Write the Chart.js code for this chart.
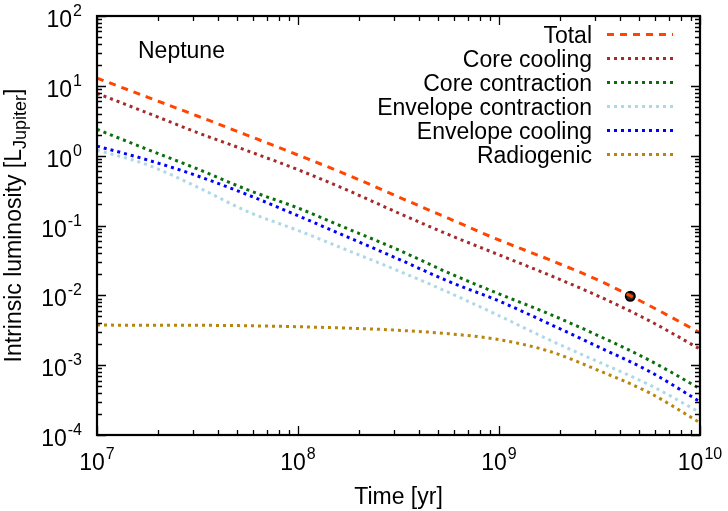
<!DOCTYPE html>
<html lang="en">
  <head>
    <meta charset="UTF-8">
    <title>Neptune luminosity</title>
    <script src="https://cdn.jsdelivr.net/npm/chart.js@4.4.0/dist/chart.umd.min.js"></script>
    <style>
      html, body { margin: 0; padding: 0; background: #fff; }
      #wrap { width: 728px; height: 511px; }
    </style>
  </head>
  <body>
    <div id="wrap"><canvas id="myChart" width="728" height="511"></canvas></div>

    <script>
      // time grid [yr] and luminosities [L_Jupiter]
      const times = [1e7, 1.78e7, 3.16e7, 5.62e7, 1e8, 1.78e8, 3.16e8, 5.62e8, 1e9, 1.78e9, 3.16e9, 5.62e9, 1e10];
      const total = [12.9, 6.9, 3.7, 1.95, 1.02, 0.525, 0.257, 0.126, 0.062, 0.0324, 0.0162, 0.0071, 0.0029];
      const coreCooling = [7.8, 4.1, 2.14, 1.17, 0.63, 0.316, 0.151, 0.074, 0.038, 0.0195, 0.0096, 0.0043, 0.0017];
      const coreContraction = [2.38, 1.23, 0.646, 0.324, 0.178, 0.089, 0.0447, 0.0209, 0.0105, 0.0054, 0.0026, 0.00117, 0.00046];
      const envContraction = [1.2, 0.74, 0.355, 0.158, 0.085, 0.0437, 0.0224, 0.011, 0.0051, 0.0023, 0.0011, 0.00052, 0.00021];
      const envCooling = [1.37, 0.87, 0.513, 0.275, 0.138, 0.0676, 0.0331, 0.0158, 0.0083, 0.0039, 0.0018, 0.00081, 0.0003];
      const radiogenic = [0.00376, 0.00372, 0.00372, 0.00367, 0.00355, 0.00339, 0.00316, 0.00282, 0.00232, 0.00158, 0.00083, 0.0004, 0.00015];
      const presentAge = [4.5e9];
      const presentLum = [0.0097];

      const xTicks = [1e7, 1e8, 1e9, 1e10];
      const yTicks = [1e-4, 1e-3, 1e-2, 1e-1, 1, 10, 100];

      const FONT = "'Liberation Sans', Arial, 'DejaVu Sans', sans-serif";
      const pts = arr => arr.map((v, i) => ({ x: times[i], y: v }));

      function line(label, data, color, dash) {
        return {
          label: label,
          data: pts(data),
          borderColor: color,
          backgroundColor: color,
          borderWidth: 3,
          borderDash: dash,
          borderCapStyle: 'butt',
          pointRadius: 0,
          fill: false,
          cubicInterpolationMode: 'monotone'
        };
      }
      const DOT = [3, 4];

      // "10" with a raised exponent, like gnuplot's enhanced text
      function powText(ctx, v, x, base, align) {
        const e = String(Math.round(Math.log10(v)));
        ctx.font = '23px ' + FONT;
        const w10 = ctx.measureText('10').width;
        ctx.font = '16px ' + FONT;
        const we = ctx.measureText(e).width;
        const w = w10 + 1 + we;
        const x0 = align === 'center' ? x - w / 2 : x - w;
        ctx.textAlign = 'left';
        ctx.font = '23px ' + FONT;
        ctx.fillText('10', x0, base);
        ctx.font = '16px ' + FONT;
        ctx.fillText(e, x0 + w10 + 1, base - 11);
      }

      // frame + inward gnuplot style tick marks + tick labels
      const framePlugin = {
        id: 'frame',
        afterDatasetsDraw(chart) {
          const { ctx, chartArea: { left, right, top, bottom }, scales: { x, y } } = chart;
          ctx.save();
          ctx.strokeStyle = '#000';
          ctx.lineWidth = 1.3;
          ctx.beginPath();
          for (let e = 7; e <= 10; e++) {
            for (let k = 1; k <= 9; k++) {
              const v = k * Math.pow(10, e);
              if (v > 1e10) break;
              const px = Math.round(x.getPixelForValue(v)) + 0.5;
              const len = k === 1 ? 9 : 5;
              ctx.moveTo(px, bottom); ctx.lineTo(px, bottom - len);
              ctx.moveTo(px, top); ctx.lineTo(px, top + len);
            }
          }
          for (let e = -4; e <= 2; e++) {
            for (let k = 1; k <= 9; k++) {
              const v = k * Math.pow(10, e);
              if (v > 100) break;
              const py = Math.round(y.getPixelForValue(v)) + 0.5;
              const len = k === 1 ? 9 : 5;
              ctx.moveTo(left, py); ctx.lineTo(left + len, py);
              ctx.moveTo(right, py); ctx.lineTo(right - len, py);
            }
          }
          ctx.stroke();
          ctx.lineWidth = 2.2;
          ctx.strokeRect(left, top, right - left, bottom - top);

          ctx.fillStyle = '#000';
          ctx.textBaseline = 'alphabetic';
          xTicks.forEach(v => powText(ctx, v, x.getPixelForValue(v), bottom + 35, 'center'));
          yTicks.forEach(v => powText(ctx, v, left - 15, y.getPixelForValue(v) + 11, 'right'));
          ctx.restore();
        }
      };

      // legend, planet label and axis titles
      const textPlugin = {
        id: 'texts',
        afterDraw(chart) {
          const { ctx, chartArea: { left, right, top, bottom } } = chart;
          ctx.save();
          ctx.fillStyle = '#000';
          ctx.font = '23px ' + FONT;
          ctx.textAlign = 'left';
          ctx.textBaseline = 'alphabetic';
          ctx.fillText('Neptune', left + 41, top + 42);

          ctx.textAlign = 'center';
          ctx.fillText('Time [yr]', (left + right) / 2, 504);

          // legend
          const ds = chart.data.datasets.slice(0, 6);
          ds.forEach((d, i) => {
            const yy = top + 18.5 + i * 24;
            ctx.textAlign = 'right';
            ctx.fillStyle = '#000';
            ctx.fillText(d.label, right - 108, yy + 8);
            ctx.strokeStyle = d.borderColor;
            ctx.lineWidth = 3;
            ctx.setLineDash(d.borderDash);
            ctx.beginPath();
            ctx.moveTo(right - 93, yy);
            ctx.lineTo(right - 27, yy);
            ctx.stroke();
          });
          ctx.setLineDash([]);

          // y title with subscript
          const mid = (top + bottom) / 2;
          const a = 'Intrinsic luminosity [L', b = 'Jupiter', c = ']';
          ctx.font = '23px ' + FONT;
          const wa = ctx.measureText(a).width, wc = ctx.measureText(c).width;
          ctx.font = '18px ' + FONT;
          const wb = ctx.measureText(b).width;
          const w = wa + wb + wc;
          ctx.translate(21, mid);
          ctx.rotate(-Math.PI / 2);
          ctx.textAlign = 'left';
          ctx.font = '23px ' + FONT;
          ctx.fillText(a, -w / 2, 0);
          ctx.font = '18px ' + FONT;
          ctx.fillText(b, -w / 2 + wa, 5);
          ctx.font = '23px ' + FONT;
          ctx.fillText(c, -w / 2 + wa + wb, 0);
          ctx.restore();
        }
      };

      const ctx = document.getElementById('myChart').getContext('2d');
      const myChart = new Chart(ctx, {
        type: 'line',
        data: {
          datasets: [
            line('Total', total, '#ff4500', [7, 6]),
            line('Core cooling', coreCooling, '#a52a2a', DOT),
            line('Core contraction', coreContraction, '#0a6e0a', DOT),
            line('Envelope contraction', envContraction, '#add8e6', DOT),
            line('Envelope cooling', envCooling, '#0000ff', DOT),
            line('Radiogenic', radiogenic, '#b8860b', DOT),
            {
              label: 'present',
              data: presentAge.map((t, i) => ({ x: t, y: presentLum[i] })),
              showLine: false,
              pointRadius: 4.5,
              pointBackgroundColor: '#2a2a2a',
              pointBorderColor: '#000',
              pointBorderWidth: 2
            }
          ]
        },
        options: {
          responsive: false,
          animation: false,
          events: [],
          layout: { padding: { left: 0, right: 28, top: 16, bottom: 0 } },
          plugins: { legend: { display: false }, tooltip: { enabled: false } },
          scales: {
            x: {
              type: 'logarithmic',
              min: 1e7,
              max: 1e10,
              grid: { display: false, drawTicks: false },
              border: { display: false },
              afterBuildTicks: s => { s.ticks = xTicks.map(v => ({ value: v, major: true })); },
              afterFit: s => { s.height = 76; },
              ticks: { display: false }
            },
            y: {
              type: 'logarithmic',
              min: 1e-4,
              max: 100,
              grid: { display: false, drawTicks: false },
              border: { display: false },
              afterBuildTicks: s => { s.ticks = yTicks.map(v => ({ value: v, major: true })); },
              afterFit: s => { s.width = 97; },
              ticks: { display: false }
            }
          }
        },
        plugins: [framePlugin, textPlugin]
      });
    </script>
  </body>
</html>
